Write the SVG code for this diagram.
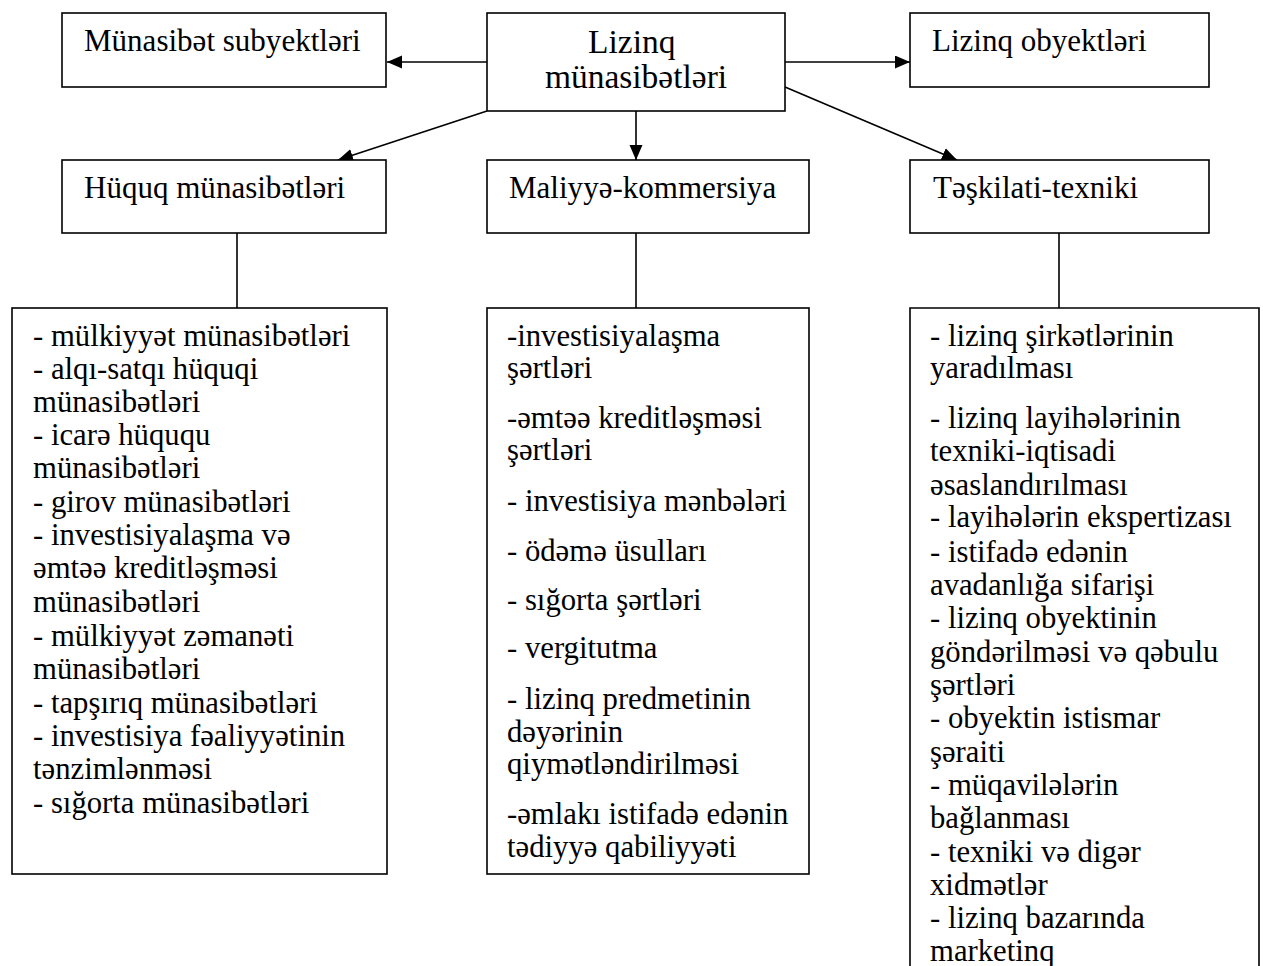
<svg xmlns="http://www.w3.org/2000/svg" width="1263" height="966" viewBox="0 0 1263 966">
  <defs>
    <marker id="arrow" markerUnits="userSpaceOnUse" markerWidth="16" markerHeight="14" refX="15" refY="6.5" orient="auto">
      <path d="M0,0 L15,6.5 L0,13 z" fill="#000"/>
    </marker>
    <style>
      .box { fill: #fff; stroke: #000; stroke-width: 1.6; }
      .lnk { fill: none; stroke: #000; stroke-width: 1.6; }
      .arr { fill: none; stroke: #000; stroke-width: 1.6; marker-end: url(#arrow); }
      .t { font-family: "Liberation Serif", "Times New Roman", serif; font-size: 32px; fill: #000; }
      .big { font-size: 34px; }
    </style>
  </defs>

  <rect width="1263" height="966" fill="#fff"/>

  <!-- connectors -->
  <g id="connectors">
    <line class="arr" x1="487" y1="62" x2="387" y2="62"/>
    <line class="arr" x1="785" y1="62" x2="910" y2="62"/>
    <line class="arr" x1="636" y1="111" x2="636" y2="160"/>
    <line class="arr" x1="487" y1="111" x2="338" y2="160"/>
    <line class="arr" x1="785" y1="87" x2="957" y2="160"/>
    <line class="lnk" x1="237" y1="233" x2="237" y2="308"/>
    <line class="lnk" x1="636" y1="233" x2="636" y2="308"/>
    <line class="lnk" x1="1059" y1="233" x2="1059" y2="308"/>
  </g>

  <!-- top row -->
  <g id="subjects">
    <rect class="box" x="62" y="13" width="324" height="74"/>
    <text class="t" transform="translate(84 0) scale(0.97 1)"><tspan x="0" y="51">Münasibət subyektləri</tspan></text>
  </g>
  <g id="leasing-relations">
    <rect class="box" x="487" y="13" width="298" height="98"/>
    <text class="t big" text-anchor="middle" transform="translate(636 0) scale(0.985 1)">
      <tspan x="0" y="53">Lizinq</tspan>
      <tspan x="0" y="88">münasibətləri</tspan>
    </text>
  </g>
  <g id="objects">
    <rect class="box" x="910" y="13" width="299" height="74"/>
    <text class="t" transform="translate(932 0) scale(0.97 1)"><tspan x="0" y="51">Lizinq obyektləri</tspan></text>
  </g>

  <!-- second row -->
  <g id="legal">
    <rect class="box" x="62" y="160" width="324" height="73"/>
    <text class="t" transform="translate(84 0) scale(0.97 1)"><tspan x="0" y="198">Hüquq münasibətləri</tspan></text>
  </g>
  <g id="financial">
    <rect class="box" x="487" y="160" width="322" height="73"/>
    <text class="t" transform="translate(509 0) scale(0.97 1)"><tspan x="0" y="198">Maliyyə-kommersiya</tspan></text>
  </g>
  <g id="technical">
    <rect class="box" x="910" y="160" width="299" height="73"/>
    <text class="t" transform="translate(933 0) scale(0.97 1)"><tspan x="0" y="198">Təşkilati-texniki</tspan></text>
  </g>

  <!-- detail lists -->
  <g id="legal-list">
    <rect class="box" x="12" y="308" width="375" height="566"/>
    <text class="t" transform="translate(33 0) scale(0.96 1)">
      <tspan x="0" y="346">- mülkiyyət münasibətləri</tspan>
      <tspan x="0" y="379">- alqı-satqı hüquqi</tspan>
      <tspan x="0" y="412">münasibətləri</tspan>
      <tspan x="0" y="445">- icarə hüququ</tspan>
      <tspan x="0" y="478">münasibətləri</tspan>
      <tspan x="0" y="512">- girov münasibətləri</tspan>
      <tspan x="0" y="545">- investisiyalaşma və</tspan>
      <tspan x="0" y="578">əmtəə kreditləşməsi</tspan>
      <tspan x="0" y="612">münasibətləri</tspan>
      <tspan x="0" y="646">- mülkiyyət zəmanəti</tspan>
      <tspan x="0" y="679">münasibətləri</tspan>
      <tspan x="0" y="713">- tapşırıq münasibətləri</tspan>
      <tspan x="0" y="746">- investisiya fəaliyyətinin</tspan>
      <tspan x="0" y="779">tənzimlənməsi</tspan>
      <tspan x="0" y="813">- sığorta münasibətləri</tspan>
    </text>
  </g>
  <g id="financial-list">
    <rect class="box" x="487" y="308" width="322" height="566"/>
    <text class="t" transform="translate(507 0) scale(0.96 1)">
      <tspan x="0" y="346">-investisiyalaşma</tspan>
      <tspan x="0" y="378">şərtləri</tspan>
      <tspan x="0" y="428">-əmtəə kreditləşməsi</tspan>
      <tspan x="0" y="460">şərtləri</tspan>
      <tspan x="0" y="511">- investisiya mənbələri</tspan>
      <tspan x="0" y="561">- ödəmə üsulları</tspan>
      <tspan x="0" y="610">- sığorta şərtləri</tspan>
      <tspan x="0" y="658">- vergitutma</tspan>
      <tspan x="0" y="709">- lizinq predmetinin</tspan>
      <tspan x="0" y="742">dəyərinin</tspan>
      <tspan x="0" y="774">qiymətləndirilməsi</tspan>
      <tspan x="0" y="824">-əmlakı istifadə edənin</tspan>
      <tspan x="0" y="857">tədiyyə qabiliyyəti</tspan>
    </text>
  </g>
  <g id="technical-list">
    <path class="lnk" d="M910,968 V308 H1259 V968"/>
    <text class="t" transform="translate(930 0) scale(0.96 1)">
      <tspan x="0" y="346">- lizinq şirkətlərinin</tspan>
      <tspan x="0" y="378">yaradılması</tspan>
      <tspan x="0" y="428">- lizinq layihələrinin</tspan>
      <tspan x="0" y="461">texniki-iqtisadi</tspan>
      <tspan x="0" y="495">əsaslandırılması</tspan>
      <tspan x="0" y="527">- layihələrin ekspertizası</tspan>
      <tspan x="0" y="562">- istifadə edənin</tspan>
      <tspan x="0" y="595">avadanlığa sifarişi</tspan>
      <tspan x="0" y="628">- lizinq obyektinin</tspan>
      <tspan x="0" y="662">göndərilməsi və qəbulu</tspan>
      <tspan x="0" y="695">şərtləri</tspan>
      <tspan x="0" y="728">- obyektin istismar</tspan>
      <tspan x="0" y="762">şəraiti</tspan>
      <tspan x="0" y="795">- müqavilələrin</tspan>
      <tspan x="0" y="828">bağlanması</tspan>
      <tspan x="0" y="862">- texniki və digər</tspan>
      <tspan x="0" y="895">xidmətlər</tspan>
      <tspan x="0" y="928">- lizinq bazarında</tspan>
      <tspan x="0" y="961">marketinq</tspan>
    </text>
  </g>
</svg>
